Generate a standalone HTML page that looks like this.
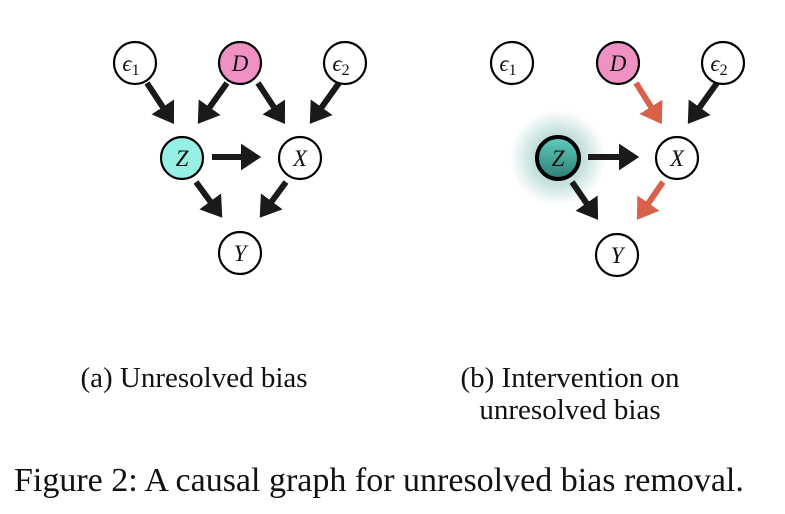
<!DOCTYPE html>
<html><head><style>
body{margin:0;background:#fff;width:785px;height:514px;overflow:hidden;font-family:"Liberation Serif",serif;}
svg{position:absolute;left:0;top:0}
.c{position:absolute;font-size:29px;color:#111;text-align:center;line-height:32px;white-space:nowrap}
</style></head><body>
<svg width="785" height="514" xmlns="http://www.w3.org/2000/svg">
<defs>
<marker id="ab" markerWidth="4.5" markerHeight="4.5" refX="2.2" refY="2.25" orient="auto" markerUnits="strokeWidth"><path d="M0,0 L3.4,2.25 L0,4.5 z" fill="#1a1a1a"/></marker>
<marker id="ar" markerWidth="4.5" markerHeight="4.5" refX="2.2" refY="2.25" orient="auto" markerUnits="strokeWidth"><path d="M0,0 L3.4,2.25 L0,4.5 z" fill="#d9604a"/></marker>
<radialGradient id="glow"><stop offset="0.4" stop-color="#2a8f84" stop-opacity="0.35"/><stop offset="1" stop-color="#2a8f84" stop-opacity="0"/></radialGradient>
<linearGradient id="zg" x1="0" y1="0" x2="0" y2="1"><stop offset="0" stop-color="#5fcfbf"/><stop offset="1" stop-color="#2e7d74"/></linearGradient>
</defs>
<g stroke-width="6" fill="none">
<line x1="147" y1="83" x2="170" y2="118" stroke="#1a1a1a" marker-end="url(#ab)"/>
<line x1="227" y1="83" x2="202" y2="118" stroke="#1a1a1a" marker-end="url(#ab)"/>
<line x1="258" y1="83" x2="281" y2="118" stroke="#1a1a1a" marker-end="url(#ab)"/>
<line x1="339" y1="83" x2="314" y2="118" stroke="#1a1a1a" marker-end="url(#ab)"/>
<line x1="212" y1="157" x2="254" y2="157" stroke="#1a1a1a" marker-end="url(#ab)"/>
<line x1="196" y1="182" x2="218" y2="212" stroke="#1a1a1a" marker-end="url(#ab)"/>
<line x1="286" y1="182" x2="264" y2="212" stroke="#1a1a1a" marker-end="url(#ab)"/>
</g>
<circle cx="558" cy="158" r="48" fill="url(#glow)"/>
<g stroke-width="6" fill="none">
<line x1="636" y1="83" x2="658" y2="118" stroke="#d9604a" marker-end="url(#ar)"/>
<line x1="717" y1="83" x2="692" y2="118" stroke="#1a1a1a" marker-end="url(#ab)"/>
<line x1="588" y1="157" x2="632" y2="157" stroke="#1a1a1a" marker-end="url(#ab)"/>
<line x1="572" y1="182" x2="594" y2="214" stroke="#1a1a1a" marker-end="url(#ab)"/>
<line x1="663" y1="182" x2="641" y2="214" stroke="#d9604a" marker-end="url(#ar)"/>
</g>
<g stroke="#000" stroke-width="2.2" font-family="Liberation Serif,serif" font-style="italic" font-size="23" text-anchor="middle">
<circle cx="135" cy="63" r="21" fill="#fff"/>
<circle cx="240" cy="63" r="21" fill="#ef91c2"/>
<circle cx="345" cy="63" r="21" fill="#fff"/>
<circle cx="182" cy="158" r="21" fill="#97f0e4"/>
<circle cx="300" cy="158" r="21" fill="#fff"/>
<circle cx="240" cy="253" r="21" fill="#fff"/>
<circle cx="512" cy="63" r="21" fill="#fff"/>
<circle cx="618" cy="63" r="21" fill="#ef91c2"/>
<circle cx="723" cy="63" r="21" fill="#fff"/>
<circle cx="558" cy="158" r="21" fill="url(#zg)" stroke-width="4"/>
<circle cx="677" cy="158" r="21" fill="#fff"/>
<circle cx="617" cy="255" r="21" fill="#fff"/>
<g stroke="none" fill="#111">
<text x="131" y="71">ϵ<tspan font-style="normal" font-size="16" dy="4">1</tspan></text>
<text x="240" y="71">D</text>
<text x="341" y="71">ϵ<tspan font-style="normal" font-size="16" dy="4">2</tspan></text>
<text x="182" y="166">Z</text>
<text x="300" y="166">X</text>
<text x="240" y="261">Y</text>
<text x="508" y="71">ϵ<tspan font-style="normal" font-size="16" dy="4">1</tspan></text>
<text x="618" y="71">D</text>
<text x="719" y="71">ϵ<tspan font-style="normal" font-size="16" dy="4">2</tspan></text>
<text x="558" y="166">Z</text>
<text x="677" y="166">X</text>
<text x="617" y="263">Y</text>
</g></g>
</svg>
<div class="c" style="left:44px;top:362px;width:300px">(a) Unresolved bias</div>
<div class="c" style="left:420px;top:362px;width:300px">(b) Intervention on<br>unresolved bias</div>
<div style="position:absolute;left:14px;top:460px;font-size:34px;line-height:42px;color:#111;white-space:nowrap">Figure 2: A causal graph for unresolved bias removal.</div>
</body></html>
